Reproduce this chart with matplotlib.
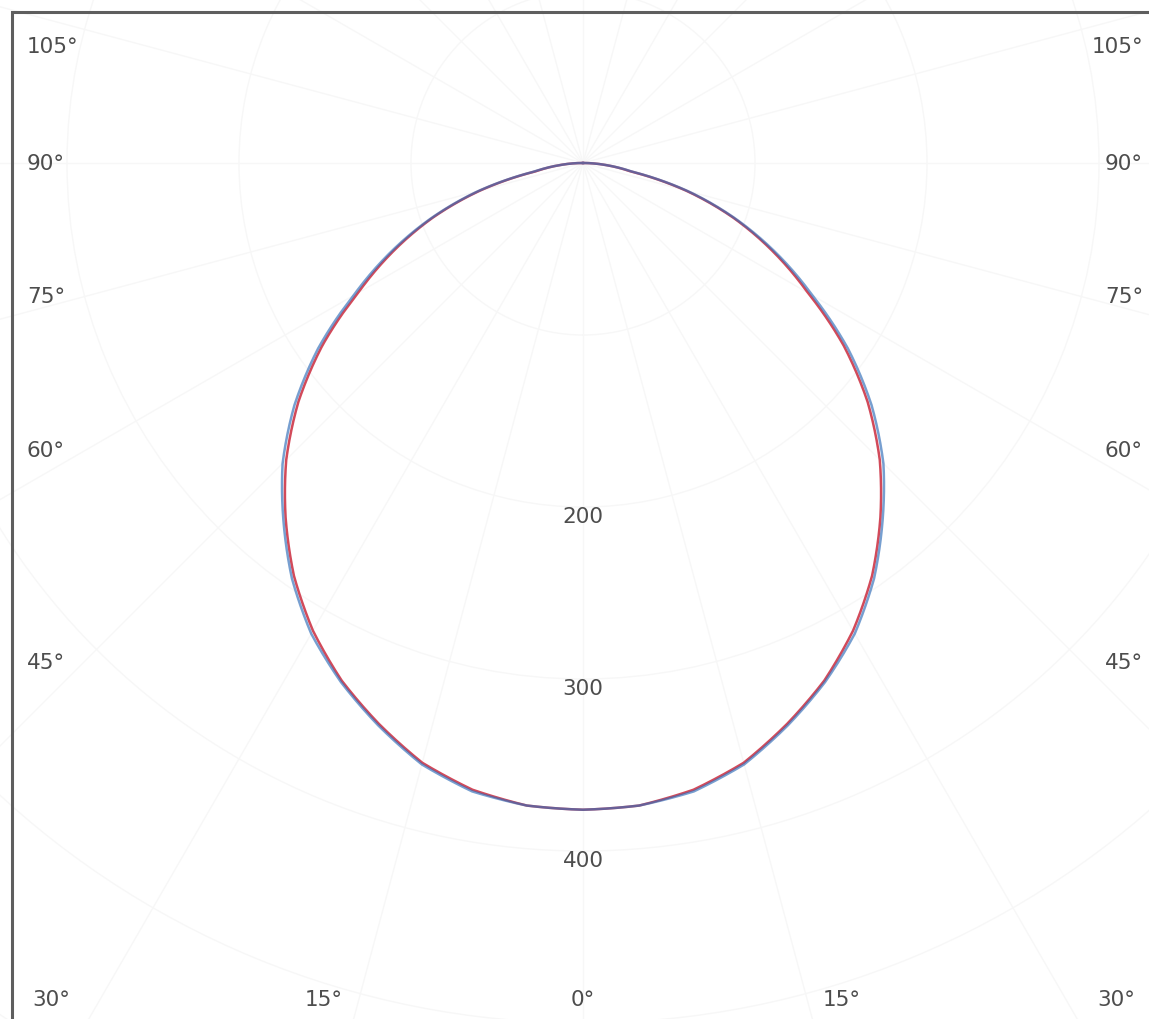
import numpy as np
import matplotlib.pyplot as plt
from matplotlib.lines import Line2D

# luminous intensity (cd) against gamma angle, two C-planes
gamma = [0, 5, 10, 15, 20, 25, 30, 35, 40, 45, 50, 55, 60, 65, 70, 75, 80, 85, 90]
i_c0_c180 = [376, 375, 370, 361, 347, 332, 314, 293, 269, 244, 216, 185, 151, 122, 93, 62, 28, 13, 0]
i_c90_c270 = [376, 375, 371, 362, 348, 333, 316, 295, 271, 247, 219, 188, 154, 124, 94, 63, 29, 13, 0]

ring_values = [100, 200, 300, 400, 500, 600]
ring_labels = [200, 300, 400]
side_angles = [105, 90, 75, 60, 45]
bottom_angles = [30, 15, 0, 15, 30]

W, H = 1149, 1020
PX = 1.72            # pixels per candela
CX, CY = 583, 164    # diagram centre in pixels
RMAX = 650

fig = plt.figure(figsize=(W / 100, H / 100), dpi=100)

# polar axes much bigger than the figure, centred on the lamp
rad = RMAX * PX
ax = fig.add_axes([(CX - rad) / W, (H - CY - rad) / H, 2 * rad / W, 2 * rad / H],
                  projection='polar')
ax.set_theta_zero_location('S')
ax.set_rlim(0, RMAX)
ax.set_thetagrids(range(0, 360, 15), labels=[])
ax.set_rgrids(ring_values, labels=[])
ax.grid(color='#f7f7f7', lw=1)
ax.spines['polar'].set_visible(False)
ax.tick_params(length=0)

# curves, mirrored to both halves
g = np.radians(gamma)
theta = np.concatenate([-g[::-1], g[1:]])
for vals, col, alpha in [(i_c0_c180, '#d24a5a', 1.0), (i_c90_c270, '#2f6cb8', 0.65)]:
    v = np.array(vals, dtype=float)
    r = np.concatenate([v[::-1], v[1:]])
    ln, = ax.plot(theta, r, color=col, lw=1.8, alpha=alpha, zorder=3)
    # draw segments as arcs in polar space instead of straight chords
    ln.get_path()._interpolation_steps = 30

txt = dict(fontsize=15.5, color='#4d4d4d', family='DejaVu Sans', zorder=6)

# radial scale values
for v in ring_labels:
    ax.text(0, v + 5, str(v), ha='center', va='center', **txt)

# frame (top and left edges)
fig.add_artist(Line2D([12 / W, 12 / W, 1], [0, 1 - 13 / H, 1 - 13 / H],
                      color='#5e5e5e', lw=2.2, solid_joinstyle='miter'))

# side angle labels
for a, ypx in zip(side_angles, [47, 164, 297, 451, 663]):
    fig.text(27 / W, 1 - ypx / H, f'{a}°', ha='left', va='center', **txt)
    fig.text(1143 / W, 1 - ypx / H, f'{a}°', ha='right', va='center', **txt)

# bottom angle labels
for a, xpx in zip(bottom_angles, [51, 324, 583, 842, 1116]):
    fig.text(xpx / W, 1 - 1000 / H, f'{a}°', ha='center', va='center', **txt)

fig.savefig('out.png', dpi=100, facecolor='white')
